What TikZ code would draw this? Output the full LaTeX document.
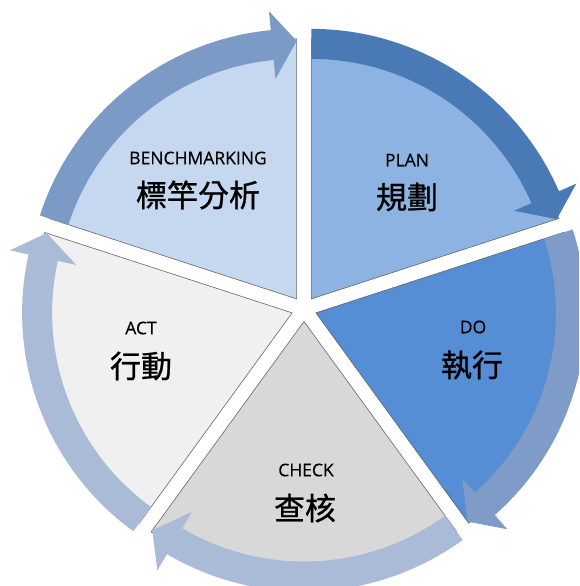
\documentclass[tikz,border=0pt]{standalone}
\usepackage{fontspec}
\setmainfont{Open Sans}
\newfontfamily\cjk[FakeBold=0.9]{Noto Sans CJK TC}
\newfontfamily\lat[FakeBold=0.3]{Open Sans}
\definecolor{benchfill}{RGB}{197,216,239}
\definecolor{benchband}{RGB}{123,154,198}
\definecolor{planfill}{RGB}{141,179,226}
\definecolor{planband}{RGB}{73,122,181}
\definecolor{dofill}{RGB}{85,142,213}
\definecolor{doband}{RGB}{127,156,200}
\definecolor{checkfill}{RGB}{216,216,216}
\definecolor{checkband}{RGB}{170,187,216}
\definecolor{actfill}{RGB}{240,240,240}
\definecolor{actband}{RGB}{170,187,216}

\begin{document}
\begin{tikzpicture}[x=1pt, y=1pt,
    lbl/.style={font=\lat\fontsize{17.5}{20}\selectfont, inner sep=0pt},
    zh/.style={font=\cjk\fontsize{31}{36}\selectfont, inner sep=0pt},
    slice/.style={draw=gray!80!black, line width=.6pt}]
\useasboundingbox (0,0) rectangle (579,586);
\clip (0,0) rectangle (579,586);
\coordinate (c) at (304,277);

% slices and arrows, clockwise
\foreach \m/\fc/\bc in {126/benchfill/benchband, 54/planfill/planband, -18/dofill/doband, -90/checkfill/checkband, -162/actfill/actband}
{
    \begin{scope}[shift={(c)}, shift={(\m:12.5)}]
    \filldraw[slice, fill=\fc](0,0)--(\m+36:260) arc[start angle=\m+36, end angle=\m-36, radius=260]--cycle;
    \fill[\bc](\m+36:270) arc[start angle=\m+36, end angle=\m-30.5, radius=270]
        --(\m-30.5:289)--(\m-36:258)--(\m-30.5:221)--(\m-30.5:240)
        arc[start angle=\m-30.5, end angle=\m+36, radius=240]--cycle;
    \end{scope}
}

\node (bench) at (198,428)[lbl]{BENCHMARKING};
\node (benchzh) at (198,391)[zh]{標竿分析};
\node (plan) at (407,426)[lbl]{PLAN};
\node (planzh) at (407,389)[zh]{規劃};
\node (do) at (473,259)[lbl]{DO};
\node (dozh) at (472,221)[zh]{執行};
\node (check) at (306,116)[lbl]{CHECK};
\node (checkzh) at (305,78)[zh]{查核};
\node (act) at (141,258)[lbl]{ACT};
\node (actzh) at (141,220)[zh]{行動};

\end{tikzpicture}
\end{document}
